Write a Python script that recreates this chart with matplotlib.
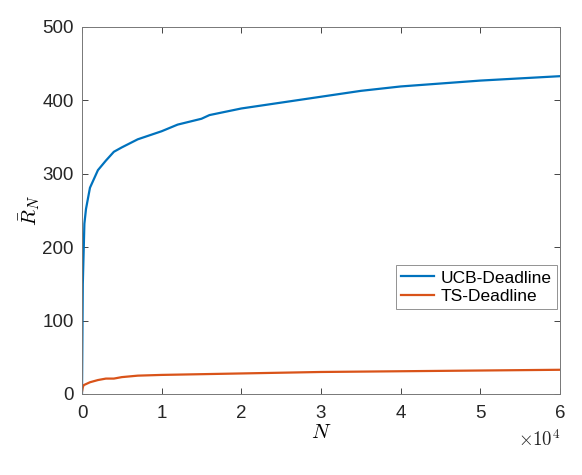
import matplotlib.pyplot as plt

plt.rcParams['font.family'] = ['Liberation Sans', 'DejaVu Sans']
plt.rcParams['mathtext.fontset'] = 'cm'

# regret curves
n_ucb = [0, 100, 300, 500, 1000, 2000, 3000, 4000, 5000, 7000, 10000, 12000, 15000,
         16000, 20000, 25000, 30000, 35000, 40000, 45000, 50000, 55000, 60000]
r_ucb = [0, 150, 232, 252, 281, 305, 318, 330, 336, 347, 358, 367, 375,
         380, 389, 397, 405, 413, 419, 423, 427, 430, 433]
n_ts = [0, 100, 200, 1000, 2000, 3000, 4000, 5000, 6000, 7000, 10000, 20000,
        30000, 40000, 50000, 60000]
r_ts = [3, 9, 12, 16, 19, 21, 21, 23, 24, 25, 26, 28, 30, 31, 32, 33]

labels = ['UCB-Deadline', 'TS-Deadline']
colors = ['#0072BD', '#D95319']

fig = plt.figure(figsize=(5.82, 4.75), dpi=100)
ax = fig.add_axes([82 / 582, 81 / 475, 478 / 582, 367 / 475])

ax.plot(n_ucb, r_ucb, color=colors[0], lw=1.6, label=labels[0])
ax.plot(n_ts, r_ts, color=colors[1], lw=1.6, label=labels[1])

ax.set_xlim(0, 60000)
ax.set_ylim(0, 500)
ax.set_xticks([0, 10000, 20000, 30000, 40000, 50000, 60000])
ax.set_xticklabels(['0', '1', '2', '3', '4', '5', '6'])
ax.set_yticks([0, 100, 200, 300, 400, 500])

ax.tick_params(direction='in', top=True, right=True, labelsize=13.5,
               colors='#262626', length=4, width=0.6)
ax.tick_params(axis='x', pad=8)
ax.tick_params(axis='y', pad=6)
for s in ax.spines.values():
    s.set_color('#777777')
    s.set_linewidth(0.7)

ax.text(1.0, -0.125, r'$\times10^{4}$', transform=ax.transAxes,
        ha='right', va='center', fontsize=13.5, color='#262626')
ax.set_xlabel(r'$N$', fontsize=15, labelpad=1)
ax.set_ylabel(r'$\bar{R}_N$', fontsize=15, labelpad=0)

leg = ax.legend(loc='upper right', bbox_to_anchor=(0.994, 0.351), borderaxespad=0,
                fontsize=12.5, frameon=True, fancybox=False, handlelength=1.9,
                handletextpad=0.4, borderpad=0.3, labelspacing=0.2)
leg.get_frame().set_edgecolor('#777777')
leg.get_frame().set_linewidth(0.7)

fig.savefig('out.png', dpi=100)
